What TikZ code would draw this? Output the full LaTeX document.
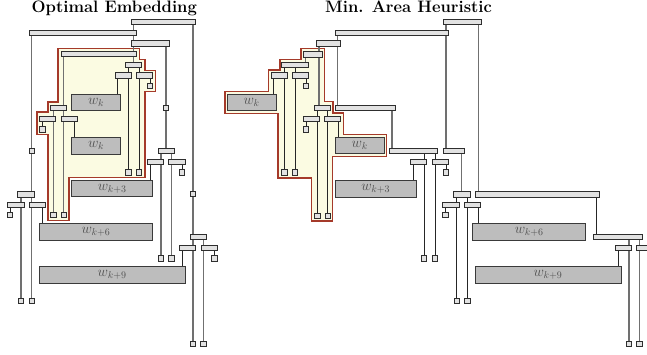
\documentclass[tikz,border=0pt]{standalone}
\usepackage{tikz}
\pgfdeclarelayer{hl}
\pgfdeclarelayer{ln}
\pgfsetlayers{hl,ln,main}
\definecolor{barfill}{HTML}{E2E2E2}
\definecolor{barline}{HTML}{2E2E2E}
\definecolor{boxfill}{HTML}{BDBDBD}
\definecolor{boxline}{HTML}{3A3A3A}
\definecolor{labelgray}{HTML}{505050}
\definecolor{edgegray}{HTML}{707070}
\definecolor{hlfill}{RGB}{251,251,226}
\definecolor{hlred}{RGB}{165,58,42}
\tikzset{
  barN/.style={draw=barline, fill=barfill, line width=0.75pt, inner sep=0pt, outer sep=0pt, minimum height=5.4pt, anchor=north west},
  leafN/.style={draw=barline, fill=barfill, line width=0.75pt, inner sep=0pt, outer sep=0pt, minimum size=5.4pt},
  wboxN/.style={draw=boxline, fill=boxfill, line width=0.85pt, inner sep=0pt, outer sep=0pt, anchor=north west, text=labelgray, font=\fontsize{14.5}{14.5}\selectfont},
  edgeL/.style={draw=edgegray, line width=1.35pt},
  thinL/.style={draw=black!85, line width=0.85pt},
  hlt/.style={fill=hlfill, draw=hlred, line width=1.1pt},
  titleN/.style={font=\fontsize{16.6}{19}\selectfont\bfseries, anchor=base, inner sep=0pt}
}
\newcommand\mkbar[4]{\node[barN, minimum width={(#3-#2)*1pt}] (#1) at (#2,#4) {};}
\newcommand\mksq[3]{\node[leafN] (#1) at (#2,#3) {};}
\newcommand\mkbox[6]{\node[wboxN, minimum width={(#3-#2)*1pt}, minimum height={(#5-#4)*1pt}] (#1) at (#2,#4) {$#6$};}
\newcommand\vln[4]{\draw[#1] (#2,0 |- #3) -- (#2,0 |- #4);}
\begin{document}
\begin{tikzpicture}[x=1pt,y=-1pt]
\useasboundingbox (0,0) rectangle (647,354);
\clip (0,0) rectangle (647,354);

% titles
\node[titleN] (ttl1) at (114.3,12.5) {Optimal Embedding};
\node[titleN] (ttl2) at (408.5,12.5) {Min. Area Heuristic};

% ---------------- left: bars
\mkbar{A}{131}{195.7}{19.3}
\mkbar{B}{29}{136.7}{30}
\mkbar{D}{131}{169}{40.7}
\mkbar{E}{61}{136.7}{51.3}
\mkbar{J}{125.7}{141.7}{62.3}
\mkbar{K}{115}{131}{72.7}
\mkbar{L}{136.7}{152.7}{72.7}
\mkbar{G}{50.7}{66.7}{105.3}
\mkbar{H}{39.3}{55.7}{116}
\mkbar{I}{61}{77.3}{116}
\mkbar{F}{158}{174}{148.3}
\mkbar{Fa}{147.7}{163.3}{159}
\mkbar{Fb}{168.3}{185}{159}
\mkbar{C}{17.7}{34.3}{191.7}
\mkbar{Ca}{7.3}{24}{202.3}
\mkbar{Cb}{29}{45.7}{202.3}
\mkbar{M}{190}{206.7}{234.3}
\mkbar{Ma}{179.3}{195.3}{245.3}
\mkbar{Mb}{201}{217.3}{245.3}
% left: leaves
\mksq{s1}{31.8}{151}
\mksq{s2}{166}{108}
\mksq{s3}{150}{86}
\mksq{s4}{42.5}{129.5}
\mksq{s5}{128.5}{172.5}
\mksq{s6}{139}{172.5}
\mksq{s7}{182}{172.5}
\mksq{s8}{193}{194}
\mksq{s9}{53.2}{215}
\mksq{s10}{63.7}{215}
\mksq{s11}{10}{215}
\mksq{s12}{161}{258.5}
\mksq{s13}{171.5}{258.5}
\mksq{s14}{214.5}{258.5}
\mksq{s15}{21}{301}
\mksq{s16}{31.8}{301}
\mksq{s17}{193}{344}
\mksq{s18}{203.4}{344}
% left: boxes
\mkbox{wa}{71.7}{120.7}{94}{110.7}{w_k}
\mkbox{wb}{71.7}{120.7}{137.3}{154}{w_k}
\mkbox{wc}{71.7}{152.7}{180.7}{196.7}{w_{k+3}}
\mkbox{wd}{39.3}{152.7}{223.3}{240}{w_{k+6}}
\mkbox{we}{39.3}{185}{266.7}{283.3}{w_{k+9}}

% ---------------- right: bars
\mkbar{R0}{443}{481}{19.3}
\mkbar{R1}{335}{448.3}{30}
\mkbar{R2}{316.7}{340.7}{40.7}
\mkbar{R3}{303.3}{322.3}{51.7}
\mkbar{R4}{281.7}{308.3}{62.3}
\mkbar{R5}{271}{287.3}{72.7}
\mkbar{R6}{292.7}{308.3}{72.7}
\mkbar{R7}{314}{330.7}{105.3}
\mkbar{R8}{303.3}{319.3}{116}
\mkbar{R9}{324.3}{340.7}{116}
\mkbar{R10}{335}{395}{105.3}
\mkbar{R11}{389.3}{437.3}{148.3}
\mkbar{R12}{443.3}{464.3}{148.3}
\mkbar{R13}{410.7}{426.7}{159}
\mkbar{R14}{432.3}{448.3}{159}
\mkbar{R15}{453.3}{470}{191.7}
\mkbar{R16}{442.7}{459.3}{202.3}
\mkbar{R17}{464.3}{480.7}{202.3}
\mkbar{R18}{475}{599.3}{191.7}
\mkbar{R19}{593.3}{642.7}{234.3}
\mkbar{R20}{615}{631.7}{245.3}
\mkbar{R21}{636.7}{653}{245.3}
% right: leaves
\mksq{t1}{306}{86}
\mksq{t2}{306}{129.5}
\mksq{t3}{284.5}{172.5}
\mksq{t4}{295}{172.5}
\mksq{t5}{317.2}{216}
\mksq{t6}{327.8}{216}
\mksq{t7}{446}{172.5}
\mksq{t8}{445.5}{215}
\mksq{t9}{424}{258.5}
\mksq{t10}{435}{258.5}
\mksq{t11}{456.7}{301}
\mksq{t12}{467.3}{301}
\mksq{t13}{629}{344}
\mksq{t14}{639.3}{344}
\mksq{t15}{650}{258.5}
% right: boxes
\mkbox{va}{227.3}{276}{94.3}{110.7}{w_k}
\mkbox{vb}{335.5}{384}{137.3}{153.3}{w_k}
\mkbox{vc}{335.5}{416}{180.7}{197.3}{w_{k+3}}
\mkbox{vd}{472.7}{585.7}{223.3}{240}{w_{k+6}}
\mkbox{ve}{475}{621}{266.7}{283.3}{w_{k+9}}

% ---------------- highlight regions
\begin{pgfonlayer}{hl}
\draw[hlt] (58,48.5) -- (139.5,48.5) -- (139.5,59.5) -- (145,59.5) -- (145,70.5)
  -- (155.5,70.5) -- (155.5,91.5) -- (145,91.5) -- (145,177.5) -- (69,177.5)
  -- (69,220.5) -- (48,220.5) -- (48,134.5) -- (37,134.5) -- (37,112) -- (48,112)
  -- (48,102) -- (58,102) -- cycle;
\draw[hlt] (301,48.5) -- (324.5,48.5) -- (324.5,101.7) -- (333,101.7) -- (333,113)
  -- (343.3,113) -- (343.3,134.5) -- (386.7,134.5) -- (386.7,156.5) -- (332.7,156.5)
  -- (332.7,221) -- (311.7,221) -- (311.7,178) -- (278,178) -- (278,113.3)
  -- (225,113.3) -- (225,91.7) -- (268.3,91.7) -- (268.3,70) -- (280,70)
  -- (280,59.5) -- (301,59.5) -- cycle;
\end{pgfonlayer}

% ---------------- connectors
\begin{pgfonlayer}{ln}
% left
\vln{edgeL}{133.5}{A.south}{J.north}
\vln{edgeL}{193}{A.south}{M.north}
\vln{edgeL}{193}{M.south}{s17.north}
\vln{edgeL}{203.4}{M.south}{s18.north}
\vln{edgeL}{31.8}{B.south}{C.north}
\vln{edgeL}{31.8}{C.south}{s16.north}
\vln{edgeL}{21}{C.south}{s15.north}
\vln{thinL}{10}{Ca.south}{s11.north}
\vln{thinL}{42.3}{Cb.south}{wd.north}
\vln{edgeL}{166}{D.south}{F.north}
\vln{edgeL}{63.7}{E.south}{s10.north}
\vln{edgeL}{53.2}{G.south}{s9.north}
\vln{thinL}{42.5}{H.south}{s4.north}
\vln{thinL}{74}{I.south}{wb.north}
\vln{thinL}{128.5}{J.south}{s5.north}
\vln{thinL}{139}{J.south}{s6.north}
\vln{thinL}{117.7}{K.south}{wa.north}
\vln{thinL}{150}{L.south}{s3.north}
\vln{edgeL}{161}{F.south}{s12.north}
\vln{edgeL}{171.5}{F.south}{s13.north}
\vln{thinL}{150}{Fa.south}{wc.north}
\vln{thinL}{182}{Fb.south}{s7.north}
\vln{thinL}{182}{Ma.south}{we.north}
\vln{thinL}{214.5}{Mb.south}{s14.north}
% right
\vln{edgeL}{478.3}{R0.south}{R18.north}
\vln{edgeL}{446}{R0.south}{R12.north}
\vln{edgeL}{337.7}{R1.south}{R10.north}
\vln{edgeL}{319}{R2.south}{R7.north}
\vln{edgeL}{305.5}{R3.south}{R4.north}
\vln{thinL}{284.5}{R4.south}{t3.north}
\vln{thinL}{295}{R4.south}{t4.north}
\vln{thinL}{273.3}{R5.south}{va.north}
\vln{thinL}{306}{R6.south}{t1.north}
\vln{thinL}{317.2}{R7.south}{t5.north}
\vln{thinL}{327.8}{R7.south}{t6.north}
\vln{thinL}{306}{R8.south}{t2.north}
\vln{thinL}{338.3}{R9.south}{vb.north}
\vln{edgeL}{392}{R10.south}{R11.north}
\vln{thinL}{424}{R11.south}{t9.north}
\vln{thinL}{435}{R11.south}{t10.north}
\vln{thinL}{413.3}{R13.south}{vc.north}
\vln{thinL}{446}{R14.south}{t7.north}
\vln{edgeL}{461.7}{R12.south}{R15.north}
\vln{thinL}{456.7}{R15.south}{t11.north}
\vln{thinL}{467.3}{R15.south}{t12.north}
\vln{thinL}{445.5}{R16.south}{t8.north}
\vln{thinL}{478.3}{R17.south}{vd.north}
\vln{thinL}{596.7}{R18.south}{R19.north}
\vln{edgeL}{629}{R19.south}{t13.north}
\vln{edgeL}{639.3}{R19.south}{t14.north}
\vln{thinL}{618.3}{R20.south}{ve.north}
\vln{thinL}{650}{R21.south}{t15.north}
\end{pgfonlayer}
\end{tikzpicture}
\end{document}
